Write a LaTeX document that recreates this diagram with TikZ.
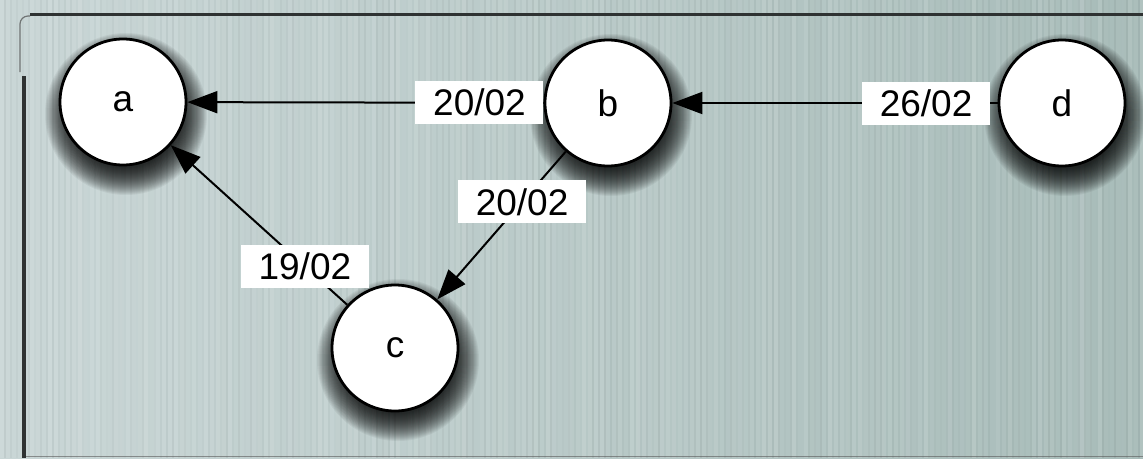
\documentclass[tikz,border=0pt]{standalone}
\usepackage{fontspec}
\setmainfont{Liberation Sans}
\usetikzlibrary{arrows.meta}
\definecolor{bgleft}{HTML}{C9D6D6}
\definecolor{bgright}{HTML}{A8BCB9}
\definecolor{framedark}{HTML}{2E3232}
\pgfdeclarelayer{backdrop}
\pgfdeclarelayer{shadowlayer}
\pgfsetlayers{backdrop,shadowlayer,main}
\tikzset{
  vertex/.style={circle, draw=black, line width=2.8pt, fill=white,
    minimum size=126pt, inner sep=0pt, font=\fontsize{37}{42}\selectfont},
  datebox/.style={fill=white, minimum width=128pt, minimum height=43pt,
    inner sep=0pt, font=\fontsize{37}{42}\selectfont},
  link/.style={line width=2pt, -{Triangle[length=30pt,width=22pt]}},
  shadowring/.style={fill=black, opacity=0.05}
}
\begin{document}
\begin{tikzpicture}[x=1pt,y=-1pt]
  \useasboundingbox (0,0) rectangle (1143,458);
  % vertices
  \node[vertex] (a) at (123,102) {a};
  \node[vertex] (b) at (608,103) {b};
  \node[vertex] (d) at (1062,103) {d};
  \node[vertex] (c) at (395,348) {c};
  % dated links
  \draw[link] (b) -- node[datebox, pos=0.18] {20/02} (a);
  \draw[link] (d) -- node[datebox, pos=0.22] {26/02} (b);
  \draw[link] (b) -- node[datebox, pos=0.34] {20/02} (c);
  \draw[link] (c) -- node[datebox, pos=0.24] {19/02} (a);
  % soft drop shadows under the vertices
  \begin{pgfonlayer}{shadowlayer}
    \foreach \v in {a,b,c,d} {
      \foreach \r in {54,...,81} {
        \fill[shadowring] ([shift={(3,12)}]\v.center) circle[radius=\r];
      }
    }
  \end{pgfonlayer}
  % textured backdrop and frame
  \begin{pgfonlayer}{backdrop}
    \shade[left color=bgleft, right color=bgright] (0,0) rectangle (1143,458);
    \pgfmathsetseed{11}
    \foreach \i in {0,...,190} {
      \pgfmathsetmacro\lo{rnd*0.12}
      \pgfmathsetmacro\dk{rnd*0.045}
      \fill[white, opacity=\lo] (\i*6,0) rectangle ++(3.5,458);
      \fill[black, opacity=\dk] (\i*6+3.5,0) rectangle ++(2.5,458);
    }
    \draw[framedark, line width=3pt] (30,14) -- (1143,14);
    \draw[gray!60!black, line width=1.2pt, opacity=0.7] (20,72) -- (20,24)
      arc[start angle=180, end angle=270, radius=8] -- (30,16);
    \draw[framedark, line width=3.5pt] (24,76) -- (24,458);
    \draw[gray!70!black, line width=1.5pt, opacity=0.6] (26,456.5) -- (1143,456.5);
  \end{pgfonlayer}
\end{tikzpicture}
\end{document}
